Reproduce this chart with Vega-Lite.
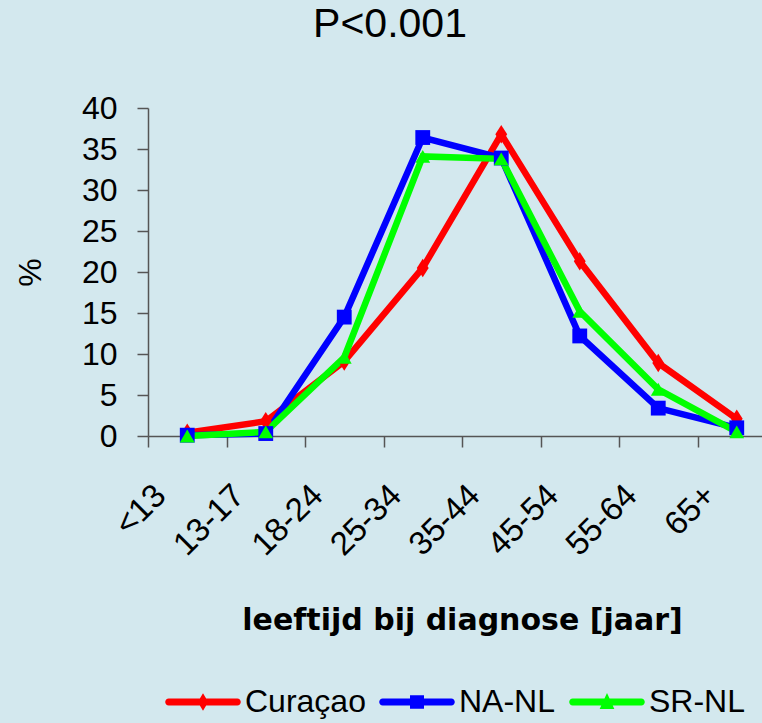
{
  "$schema": "https://vega.github.io/schema/vega-lite/v6.json",
  "width": 614,
  "height": 328,
  "autosize": {"type": "none"},
  "padding": {"left": 148, "top": 108, "right": 0, "bottom": 287},
  "background": "#d3e8ee",
  "config": {"view": {"stroke": null}, "font": "Liberation Sans"},
  "title": {"text": "P<0.001", "fontSize": 41, "font": "Liberation Sans", "fontWeight": "normal", "color": "#000000", "dx": -65, "offset": 46},
  "data": {
    "values": [
      {"group": "Curaçao", "age": "<13", "pct": 0.4},
      {"group": "Curaçao", "age": "13-17", "pct": 1.8},
      {"group": "Curaçao", "age": "18-24", "pct": 9.1},
      {"group": "Curaçao", "age": "25-34", "pct": 20.5},
      {"group": "Curaçao", "age": "35-44", "pct": 36.8},
      {"group": "Curaçao", "age": "45-54", "pct": 21.3},
      {"group": "Curaçao", "age": "55-64", "pct": 8.9},
      {"group": "Curaçao", "age": "65+", "pct": 2.1},
      {"group": "NA-NL", "age": "<13", "pct": 0.1},
      {"group": "NA-NL", "age": "13-17", "pct": 0.3},
      {"group": "NA-NL", "age": "18-24", "pct": 14.5},
      {"group": "NA-NL", "age": "25-34", "pct": 36.4},
      {"group": "NA-NL", "age": "35-44", "pct": 33.9},
      {"group": "NA-NL", "age": "45-54", "pct": 12.2},
      {"group": "NA-NL", "age": "55-64", "pct": 3.4},
      {"group": "NA-NL", "age": "65+", "pct": 1.0},
      {"group": "SR-NL", "age": "<13", "pct": 0.0},
      {"group": "SR-NL", "age": "13-17", "pct": 0.5},
      {"group": "SR-NL", "age": "18-24", "pct": 9.6},
      {"group": "SR-NL", "age": "25-34", "pct": 34.1},
      {"group": "SR-NL", "age": "35-44", "pct": 33.8},
      {"group": "SR-NL", "age": "45-54", "pct": 15.2},
      {"group": "SR-NL", "age": "55-64", "pct": 5.7},
      {"group": "SR-NL", "age": "65+", "pct": 0.5}
    ]
  },
  "encoding": {
    "x": {
      "field": "age",
      "type": "nominal",
      "sort": ["<13", "13-17", "18-24", "25-34", "35-44", "45-54", "55-64", "65+"],
      "bandPosition": 0.5,
      "scale": {"type": "band", "range": [0, 628], "paddingInner": 0, "paddingOuter": 0},
      "axis": {
        "title": "leeftijd bij diagnose [jaar]",
        "titleFont": "DejaVu Sans",
        "titleFontWeight": 600,
        "titleFontSize": 30,
        "titleColor": "#000000",
        "titleY": 193,
        "titleBaseline": "alphabetic",
        "labelAngle": -45,
        "labelFontSize": 33,
        "labelColor": "#000000",
        "labelAlign": "right",
        "labelBaseline": "middle",
        "labelPadding": 43,
        "labelOffset": -27,
        "tickBand": "extent",
        "tickSize": 11,
        "tickColor": "#555555",
        "tickWidth": 1.5,
        "domainColor": "#555555",
        "domainWidth": 1.5,
        "grid": false
      }
    },
    "y": {
      "field": "pct",
      "type": "quantitative",
      "scale": {"domain": [0, 40], "nice": false},
      "axis": {
        "title": "%",
        "titleFontSize": 32,
        "titleFontWeight": "normal",
        "titleColor": "#000000",
        "titleX": -108,
        "titleY": 164,
        "titleAlign": "center",
        "titleBaseline": "alphabetic",
        "values": [0, 5, 10, 15, 20, 25, 30, 35, 40],
        "labelFontSize": 32,
        "labelColor": "#000000",
        "labelPadding": 20,
        "tickSize": 11,
        "tickColor": "#555555",
        "tickWidth": 1.5,
        "domainColor": "#555555",
        "domainWidth": 1.5,
        "grid": false
      }
    }
  },
  "resolve": {"scale": {"shape": "independent"}, "legend": {"color": "independent", "shape": "independent"}},
  "layer": [
    {
      "mark": {"type": "line", "strokeWidth": 6.5, "strokeJoin": "miter"},
      "encoding": {
        "color": {
          "field": "group",
          "type": "nominal",
          "scale": {"domain": ["Curaçao", "NA-NL", "SR-NL"], "range": ["#ff0000", "#0000ff", "#00ff00"]},
          "legend": null
        }
      }
    },
    {
      "mark": {"type": "point", "filled": true, "opacity": 1},
      "encoding": {
        "color": {
          "field": "group",
          "type": "nominal",
          "scale": {"domain": ["Curaçao", "NA-NL", "SR-NL"], "range": ["#ff0000", "#0000ff", "#00ff00"]},
          "legend": null
        },
        "shape": {
          "field": "group",
          "type": "nominal",
          "scale": {"domain": ["Curaçao", "NA-NL", "SR-NL"], "range": ["M0,-1.25L0.8,0L0,1.25L-0.8,0Z", "square", "triangle-up"]},
          "legend": null
        },
        "size": {"value": 220}
      }
    },
    {
      "transform": [{"filter": "false"}],
      "mark": {"type": "point", "filled": true, "opacity": 1, "size": 4900},
      "encoding": {
        "color": {
          "field": "group",
          "type": "nominal",
          "scale": {"domain": ["Curaçao", "NA-NL", "SR-NL"], "range": ["#ff0000", "#0000ff", "#00ff00"]},
          "legend": {
            "title": null,
            "orient": "none",
            "direction": "horizontal",
            "legendX": 20,
            "legendY": 559,
            "padding": 0,
            "labelFontSize": 32,
            "labelColor": "#000000",
            "labelOffset": 7,
            "columnPadding": 13,
            "symbolSize": 4900,
            "symbolStrokeWidth": 0
          }
        },
        "shape": {
          "field": "group",
          "type": "nominal",
          "scale": {
            "domain": ["Curaçao", "NA-NL", "SR-NL"],
            "range": [
              "M-0.98,-0.1H0.98A0.1,0.1 0 0 1 0.98,0.1H-0.98A0.1,0.1 0 0 1 -0.98,-0.1Z M0,-0.25L0.15,0L0,0.25L-0.15,0Z",
              "M-0.98,-0.1H0.98A0.1,0.1 0 0 1 0.98,0.1H-0.98A0.1,0.1 0 0 1 -0.98,-0.1Z M-0.2,-0.19H0.2V0.19H-0.2Z",
              "M-0.98,-0.1H0.98A0.1,0.1 0 0 1 0.98,0.1H-0.98A0.1,0.1 0 0 1 -0.98,-0.1Z M0,-0.26L0.21,0.2L-0.21,0.2Z"
            ]
          },
          "legend": {
            "title": null,
            "orient": "none",
            "direction": "horizontal",
            "legendX": 20,
            "legendY": 559,
            "padding": 0,
            "labelFontSize": 32,
            "labelColor": "#000000",
            "labelOffset": 7,
            "columnPadding": 13,
            "symbolSize": 4900,
            "symbolStrokeWidth": 0
          }
        }
      }
    }
  ]
}
